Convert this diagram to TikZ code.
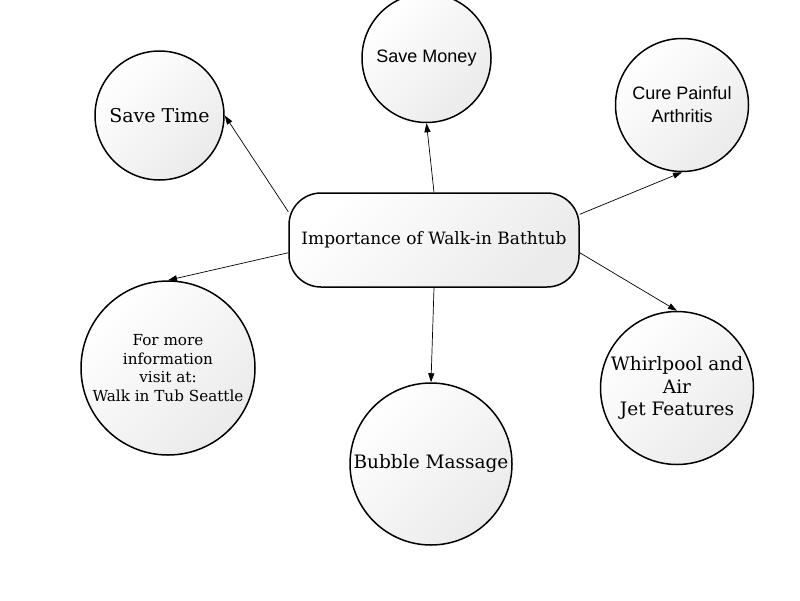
\documentclass[tikz,border=0pt]{standalone}
\usepackage{fontspec}
\setmainfont{DejaVu Serif}
\newfontfamily\arialfont{Liberation Sans}
\usetikzlibrary{arrows.meta}
\tikzset{
  shadefill/.style={top color=white, bottom color=black!8, shading angle=45},
  idea/.style={circle, draw, line width=1.5pt, shadefill, inner sep=0pt, align=center, font=\fontsize{18.5}{22.5}\selectfont},
  hub/.style={rectangle, draw, line width=1.5pt, shadefill, rounded corners=32pt, minimum width=290pt, minimum height=94pt, inner sep=0pt, font=\fontsize{17}{20}\selectfont},
  link/.style={line width=0.7pt, -{Triangle[length=9pt,width=6pt]}}
}
\begin{document}
\begin{tikzpicture}[x=1pt,y=-1pt]
    \useasboundingbox (0,0) rectangle (800,600);
    % centre
    \node[hub] (hub) at (434,240) {Importance of Walk-in Bathtub};
    % ideas
    \node[idea, minimum size=129pt, font=\fontsize{19}{22}\selectfont] (time) at (159.5,115.5) {Save Time};
    \node[idea, minimum size=129pt, font=\arialfont\fontsize{18}{22}\selectfont] (money) at (426.5,58) {Save Money};
    \node[idea, minimum size=133pt, font=\arialfont\fontsize{18}{23}\selectfont] (cure) at (682,105) {Cure Painful\\Arthritis};
    \node[idea, minimum size=174pt, font=\fontsize{15.2}{18.7}\selectfont] (info) at (168,368) {For more\\information\\visit at:\\Walk in Tub Seattle};
    \node[idea, minimum size=162pt] (bubble) at (431,464) {Bubble Massage};
    \node[idea, minimum size=153pt] (whirl) at (677,388) {Whirlpool and\\Air\\Jet Features};
    % links
    \draw[link] (hub.169.5) -- (time.east);
    \draw[link] (hub.north) -- (money.south);
    \draw[link] (hub.10.5) -- (cure.south);
    \draw[link] (hub.185.5) -- (info.north);
    \draw[link] (hub.south) -- (bubble.north);
    \draw[link] (hub.-5.9) -- (whirl.north);
\end{tikzpicture}
\end{document}
